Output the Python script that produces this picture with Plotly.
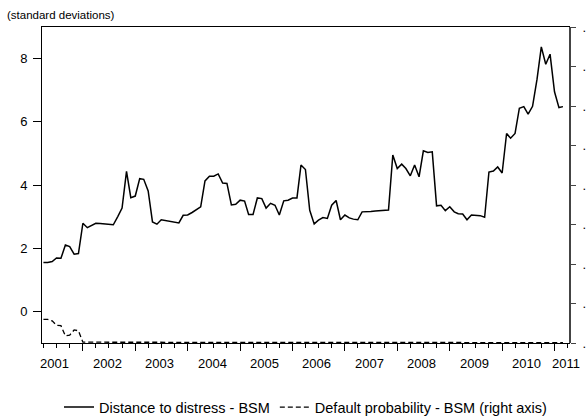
import pandas as pd
import plotly.graph_objects as go

# monthly observations, April 2001 onwards
start_month = "2001-04-01"
n_months = 120

distance_to_distress = [
    1.55, 1.55, 1.58, 1.69, 1.68, 2.10, 2.05, 1.81, 1.83,
    2.79, 2.65, 2.71, 2.79, 2.78, 2.77, 2.74, 2.74, 3.00, 3.27, 4.43,
    3.60, 3.65, 4.20, 4.18, 3.81, 2.83, 2.76, 2.90, 2.88, 2.85, 2.82,
    2.80, 3.04, 3.05, 3.13, 3.21, 3.31, 4.13, 4.28, 4.28, 4.35, 4.06, 4.05,
    3.37, 3.39, 3.52, 3.49, 3.07, 3.07, 3.59, 3.57, 3.27, 3.42, 3.36,
    3.05, 3.50, 3.52, 3.59, 3.59, 4.63, 4.49, 3.20, 2.77, 2.89, 2.97, 2.94,
    3.36, 3.51, 2.90, 3.05, 2.96, 2.92, 2.90, 3.15, 3.15, 3.16, 3.18, 3.19, 3.20, 3.21,
    4.95, 4.52, 4.66, 4.52, 4.29, 4.63, 4.26, 5.08, 5.03, 5.05, 3.34, 3.36, 3.19, 3.31, 3.15, 3.09,
    3.08, 2.90, 3.05, 3.05, 3.03, 2.98, 4.41, 4.44, 4.57, 4.38, 5.63, 5.48,
    5.63, 6.43, 6.48, 6.24, 6.49, 7.34, 8.37, 7.82, 8.14, 6.95, 6.45, 6.48,
]

default_probability = [
    0.060, 0.060, 0.056, 0.045, 0.044, 0.018, 0.020, 0.033, 0.031,
    0.002, 0.002, 0.002, 0.002, 0.002, 0.002, 0.002, 0.002, 0.002,
    0.001, 0.001, 0.001, 0.001, 0.001, 0.001, 0.001, 0.001, 0.001, 0.001, 0.001, 0.001,
    0.002, 0.002, 0.002, 0.002, 0.002, 0.002, 0.002, 0.002, 0.002, 0.002, 0.002,
    0.001, 0.001, 0.001, 0.001, 0.001, 0.001, 0.001, 0.001, 0.001, 0.001,
    0.001, 0.001, 0.001, 0.001, 0.001, 0.001, 0.001, 0.001, 0.001, 0.001,
    0.001, 0.001, 0.001, 0.001, 0.001, 0.001, 0.001, 0.001, 0.001, 0.001,
    0.001, 0.001, 0.001, 0.001, 0.001, 0.001, 0.001, 0.001, 0.001, 0.001,
    0.001, 0.001, 0.001, 0.001, 0.001, 0.001, 0.001, 0.001, 0.001, 0.001,
    0.002, 0.002, 0.002, 0.002, 0.002, 0.002, 0.002,
    0.001, 0.001, 0.001, 0.001, 0.001, 0.001, 0.001, 0.001, 0.001, 0.001, 0.001,
    0.001, 0.001, 0.001, 0.001, 0.001, 0.001, 0.001, 0.001, 0.001, 0.001, 0.001,
]

years = list(range(2001, 2012))
year_labels = [str(y) for y in years]
left_ticks = [0, 2, 4, 6, 8]
right_ticks = [0.0, 0.1, 0.2, 0.3, 0.4, 0.5, 0.6, 0.7, 0.8]
right_labels = [".0", ".1", ".2", ".3", ".4", ".5", ".6", ".7", ".8"]

dates = pd.date_range(start_month, periods=n_months, freq="MS")
x_range = ["2001-03-22", "2011-04-12"]

# year labels sit in the middle of each year, the last one squeezed in at the edge
label_pos = [f"{y}-06-20" for y in years[:-1]] + ["2011-03-20"]
year_starts = [f"{y}-01-01" for y in years[1:]]

FONT = "Liberation Sans, Arial, sans-serif"

fig = go.Figure()

fig.add_trace(go.Scatter(
    x=dates, y=distance_to_distress,
    name="Distance to distress - BSM",
    mode="lines",
    line=dict(color="black", width=1.5),
))

fig.add_trace(go.Scatter(
    x=dates, y=default_probability,
    name="Default probability - BSM (right axis)",
    mode="lines",
    line=dict(color="black", width=1.3, dash="5px,3px"),
    yaxis="y2",
))

fig.update_layout(
    template="none",
    width=586,
    height=416,
    margin=dict(l=42, r=17, t=27, b=73, autoexpand=False),
    paper_bgcolor="white",
    plot_bgcolor="white",
    font=dict(family=FONT, size=13, color="black"),
    showlegend=True,
    legend=dict(
        orientation="h",
        x=0.5, xanchor="center",
        y=-0.203, yanchor="middle",
        font=dict(size=14.5),
        bgcolor="rgba(0,0,0,0)",
        itemwidth=30,
    ),
    xaxis=dict(
        type="date",
        range=x_range,
        tickmode="array",
        tickvals=year_starts,
        ticktext=[""] * len(year_starts),
        ticks="outside",
        ticklen=7,
        tickcolor="black",
        showgrid=False,
        zeroline=False,
        showline=True,
        linecolor="black",
        linewidth=1,
        mirror=True,
        automargin=False,
        minor=dict(
            dtick="M3",
            tick0="2001-01-01",
            ticks="outside",
            ticklen=4,
            tickcolor="black",
            showgrid=False,
        ),
    ),
    yaxis=dict(
        range=[-1, 9],
        tickmode="array",
        tickvals=left_ticks,
        ticks="outside",
        ticklen=8,
        tickcolor="black",
        ticklabelstandoff=3,
        showgrid=False,
        zeroline=False,
        showline=True,
        linecolor="black",
        linewidth=1,
        mirror=True,
        automargin=False,
    ),
    yaxis2=dict(
        range=[0, 0.8],
        overlaying="y",
        side="right",
        tickmode="array",
        tickvals=right_ticks,
        ticktext=right_labels,
        ticks="outside",
        ticklen=5,
        tickcolor="#444444",
        ticklabelstandoff=4,
        showgrid=False,
        zeroline=False,
        showline=True,
        linecolor="#444444",
        linewidth=2,
        automargin=False,
    ),
)

# year labels centred under each year
for pos, lab in zip(label_pos, year_labels):
    fig.add_annotation(
        text=lab,
        x=pos, xref="x",
        y=0, yref="paper",
        yanchor="middle",
        yshift=-20,
        showarrow=False,
        font=dict(family=FONT, size=13, color="black"),
    )

fig.add_annotation(
    text="(standard deviations)",
    xref="paper", yref="paper",
    x=-0.07, y=1.0,
    xanchor="left", yanchor="bottom",
    yshift=4,
    showarrow=False,
    font=dict(family=FONT, size=11.5, color="black"),
)

fig.write_html(
    "out.html",
    config={"displayModeBar": False},
    post_script="document.body.style.margin='0px';",
)
